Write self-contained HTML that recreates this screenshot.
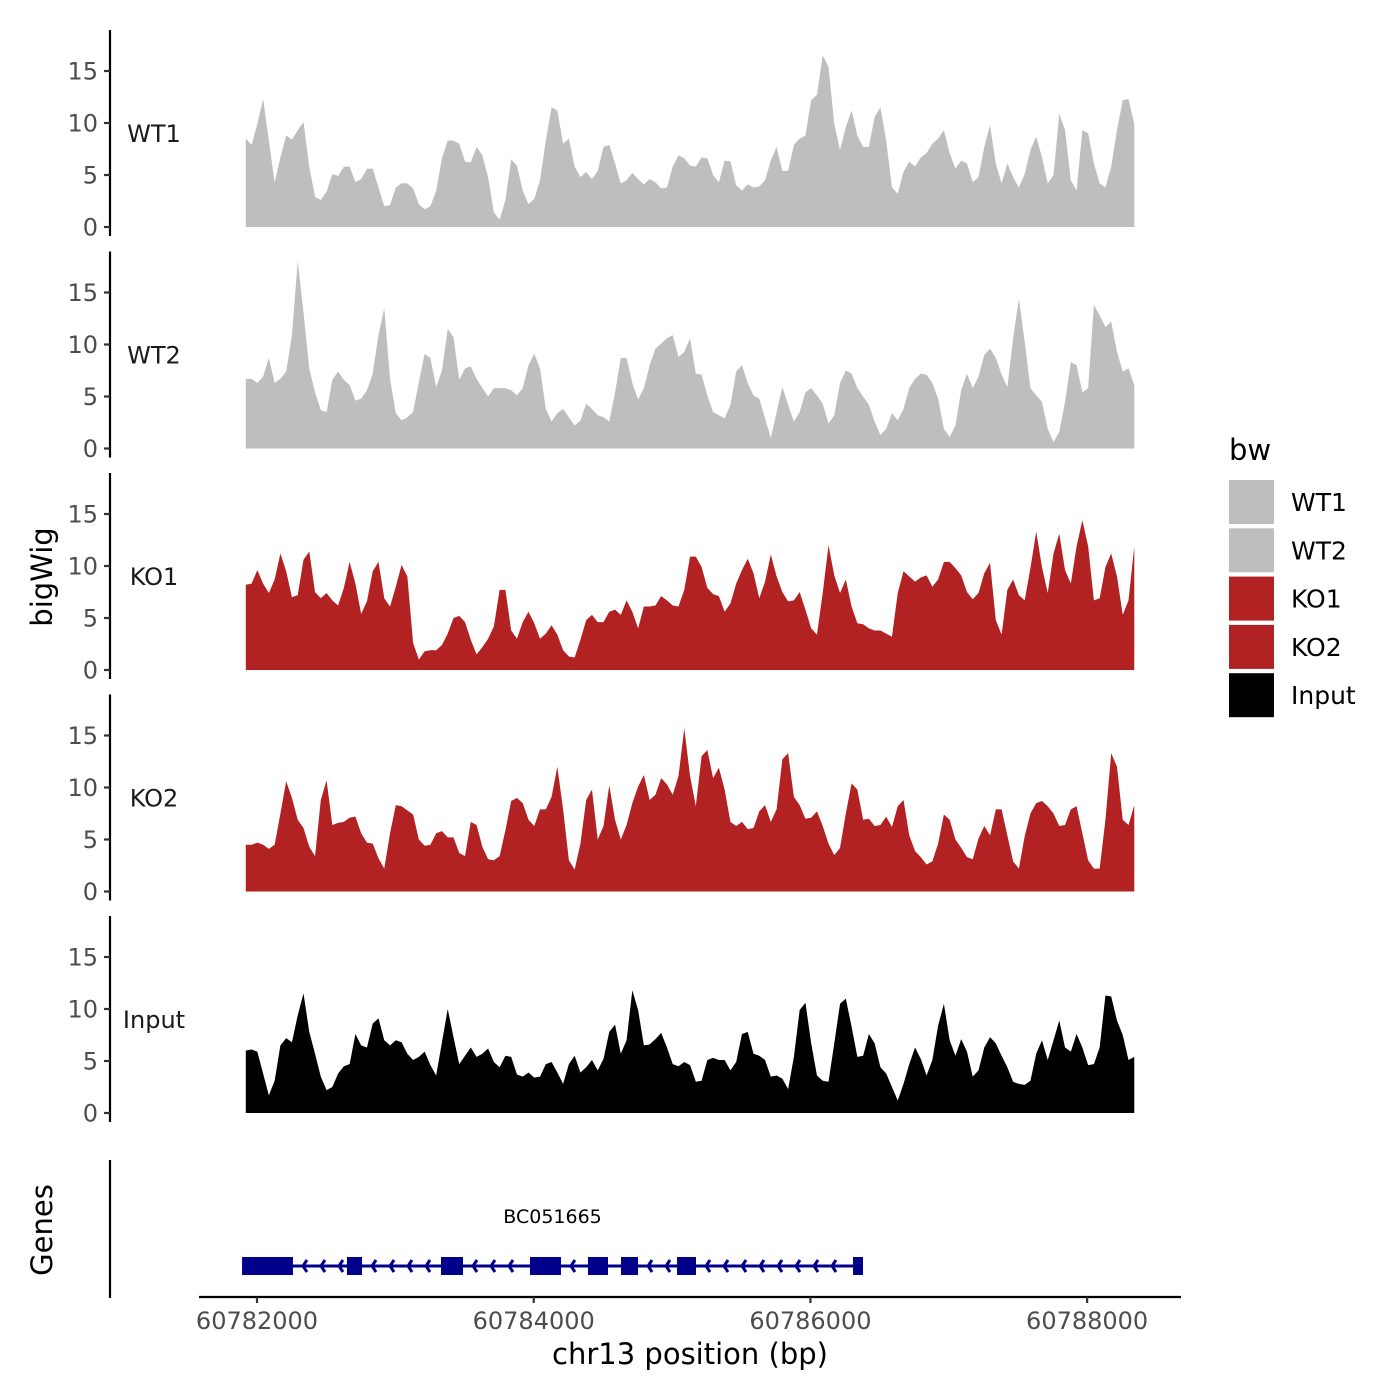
<!DOCTYPE html>
<html><head><meta charset="utf-8"><style>
html,body{margin:0;padding:0;background:#fff;}
svg{display:block;font-family:"DejaVu Sans","Liberation Sans",sans-serif;}
</style></head><body>
<svg id="chart" width="1400" height="1400" viewBox="0 0 1400 1400" xmlns="http://www.w3.org/2000/svg">
<rect width="1400" height="1400" fill="#fff"/>
<g id="panels"></g>
<g id="genes"></g>
<g id="xaxis"></g>
<text x="52" y="577" font-size="29" text-anchor="middle" transform="rotate(-90 52 577)">bigWig</text>
<text x="52" y="1230" font-size="29" text-anchor="middle" transform="rotate(-90 52 1230)">Genes</text>
<text x="690" y="1364" font-size="29" text-anchor="middle">chr13 position (bp)</text>
<g id="legend"></g>
</svg>
<script>
const startBp = 60781919;
const stepBp = 41.7;
const trackNames = ["WT1","WT2","KO1","KO2","Input"];
const trackColors = ["#bebebe","#bebebe","#b22222","#b22222","#000000"];
const wt1Values = [8.5,7.9,9.9,12.3,8.3,4.3,6.7,8.8,8.4,9.3,10.1,5.8,2.9,2.6,3.4,5.1,4.9,5.8,5.8,4.3,4.6,5.6,5.6,3.8,2.0,2.1,3.8,4.2,4.2,3.7,2.2,1.7,2.0,3.5,6.6,8.3,8.3,8.0,6.3,6.2,7.7,6.9,4.8,1.4,0.7,2.6,6.5,5.9,3.5,2.2,2.7,4.5,8.3,11.5,11.2,8.0,8.5,5.8,4.8,5.3,4.6,5.4,7.7,7.9,6.1,4.2,4.5,5.2,4.6,4.1,4.6,4.3,3.7,3.8,5.8,6.9,6.6,5.9,5.8,6.7,6.6,5.0,4.3,6.4,6.3,4.0,3.5,4.1,3.8,3.9,4.5,6.4,7.7,5.4,5.4,7.9,8.5,8.8,12.2,12.7,16.5,15.4,9.9,7.4,9.6,11.2,8.8,7.7,7.7,10.6,11.5,8.3,3.8,3.2,5.3,6.3,5.8,6.7,7.1,8.0,8.5,9.3,7.1,5.6,6.4,6.1,4.3,4.8,7.7,9.8,6.1,4.2,6.1,4.8,3.8,5.1,7.4,8.7,6.7,4.2,5.0,10.9,9.3,4.5,3.5,9.3,9.0,6.1,4.2,3.8,5.8,9.3,12.2,12.3,9.9];
const wt2Values = [6.7,6.7,6.3,6.9,8.7,6.3,6.7,7.4,10.9,18.0,13.1,7.7,5.4,3.7,3.5,6.6,7.4,6.6,6.1,4.6,4.8,5.6,7.2,10.9,13.5,6.7,3.4,2.7,3.0,3.5,6.4,9.1,8.7,5.9,7.5,11.5,10.7,6.6,7.7,7.9,6.7,5.8,5.0,5.8,5.8,5.8,5.6,5.1,5.8,8.0,9.1,7.7,3.8,2.6,3.4,3.8,3.0,2.2,2.7,4.3,3.8,3.2,3.0,2.6,5.4,8.7,8.7,6.3,4.7,5.8,8.0,9.6,10.1,10.6,10.9,8.8,9.3,10.6,7.2,7.1,5.1,3.5,3.2,2.9,4.2,7.4,8.0,6.3,5.1,4.8,2.9,1.0,3.5,5.9,4.2,2.6,3.5,5.4,5.8,5.1,4.3,2.4,3.2,6.3,7.5,7.2,5.8,5.0,4.2,2.6,1.3,1.9,3.4,2.7,3.8,5.8,6.7,7.2,7.1,6.3,4.8,1.9,1.1,2.2,5.6,7.2,5.8,6.9,9.0,9.6,8.7,7.1,5.9,10.6,14.4,10.3,5.8,5.1,4.5,1.9,0.6,1.6,4.5,8.3,8.0,5.4,5.8,13.8,12.8,11.7,12.2,9.3,7.4,7.7,6.1];
const ko1Values = [8.2,8.3,9.6,8.3,7.4,8.7,11.2,9.5,7.0,7.2,10.6,11.4,7.5,6.9,7.4,6.7,6.2,7.9,10.4,8.3,5.4,6.6,9.5,10.4,6.9,6.1,8.0,10.1,9.0,2.6,1.0,1.8,1.9,1.9,2.4,3.5,5.0,5.2,4.6,2.9,1.5,2.2,3.0,4.2,7.7,7.7,3.8,3.0,4.6,5.6,4.5,3.0,3.5,4.3,3.4,1.9,1.3,1.2,2.9,4.8,5.3,4.6,4.6,5.6,5.8,5.3,6.7,5.6,4.0,6.1,6.1,6.2,7.1,6.7,6.2,6.1,7.7,10.9,10.9,9.9,7.9,7.3,7.1,5.6,6.4,8.3,9.6,10.7,9.3,6.9,8.5,11.1,9.0,7.5,6.6,6.7,7.5,5.8,4.0,3.4,7.4,12.0,9.1,7.4,8.7,6.1,4.5,4.4,4.0,3.8,3.8,3.5,3.2,7.4,9.5,9.0,8.5,8.9,9.1,8.0,8.7,10.4,10.4,9.8,9.1,7.5,6.8,7.4,9.3,10.3,4.8,3.4,7.7,8.7,7.2,6.7,9.8,13.3,9.9,7.4,11.2,13.1,9.6,8.3,11.9,14.4,11.9,6.7,6.9,9.9,11.2,9.0,5.3,6.7,11.9];
const ko2Values = [4.5,4.5,4.7,4.5,4.1,4.5,7.5,10.6,9.0,6.9,6.1,4.3,3.4,8.8,10.7,6.4,6.6,6.7,7.1,7.2,5.6,4.7,4.6,3.2,2.2,5.6,8.3,8.2,7.8,7.4,5.0,4.4,4.5,5.6,5.8,5.2,5.2,3.7,3.4,6.7,6.4,4.3,3.1,3.0,3.4,5.9,8.7,9.0,8.5,6.9,6.3,7.9,7.9,9.1,12.0,7.9,3.0,2.1,4.6,8.8,9.8,5.0,6.3,10.2,6.9,5.0,6.4,8.5,10.1,11.2,8.8,9.3,10.9,10.3,9.3,11.1,15.7,11.1,8.2,13.0,13.6,10.9,11.9,9.8,6.7,6.3,6.7,6.0,6.1,7.7,8.3,6.7,7.9,12.7,13.3,9.1,8.3,7.0,7.1,7.7,6.3,4.6,3.5,4.2,7.5,10.4,9.8,6.9,7.0,6.3,6.4,7.2,6.2,8.2,8.8,5.4,3.9,3.3,2.6,2.9,4.6,7.4,6.9,5.0,4.2,3.3,3.1,5.1,6.3,5.4,7.9,7.9,5.4,2.9,2.2,5.3,7.5,8.5,8.7,8.2,7.5,6.3,6.4,7.9,8.2,5.6,3.0,2.2,2.2,6.9,13.3,12.0,6.9,6.4,8.3];
const inputValues = [6.0,6.1,5.9,3.8,1.7,3.1,6.5,7.2,6.8,9.4,11.5,7.8,5.7,3.5,2.2,2.5,3.8,4.5,4.7,7.6,6.5,6.3,8.6,9.1,7.0,6.5,7.0,6.8,5.7,5.1,5.4,5.9,4.6,3.6,6.8,10.0,7.3,4.7,5.5,6.3,5.4,5.7,6.2,4.9,4.4,5.5,5.4,3.7,3.5,3.9,3.4,3.5,4.7,4.9,3.9,2.8,4.7,5.5,3.9,4.4,5.1,4.1,5.2,7.8,8.5,5.7,7.0,11.8,9.9,6.5,6.6,7.1,7.7,6.3,4.7,4.5,4.9,4.6,3.0,3.1,5.1,5.3,5.1,5.1,4.1,4.9,7.6,7.8,5.7,5.5,5.1,3.5,3.6,3.3,2.3,5.4,9.9,10.6,6.7,3.6,3.1,3.0,6.7,10.5,11.0,8.3,5.4,5.5,7.6,6.7,4.4,3.8,2.5,1.2,2.8,4.7,6.3,5.2,3.6,5.1,8.4,10.5,7.0,5.5,7.1,5.9,3.5,4.1,6.3,7.3,6.7,5.5,4.4,3.0,2.8,2.7,3.1,5.7,7.0,5.1,7.0,8.9,6.3,5.9,7.6,6.3,4.6,4.7,6.3,11.3,11.2,8.9,7.5,5.1,5.4];
const trackValues = [wt1Values, wt2Values, ko1Values, ko2Values, inputValues];
const yTicks = [0,5,10,15];
const xTicks = [60782000,60784000,60786000,60788000];
const exonStarts = [60781892,60782650,60783330,60783973,60784392,60784631,60785036,60786308];
const exonEnds = [60782260,60782759,60783489,60784197,60784537,60784754,60785173,60786380];
const geneName = "BC051665";

const NS = "http://www.w3.org/2000/svg";
const zeroYs = [227, 448.5, 670, 891.5, 1113];
const pxPerUnit = 10.4;
function xScale(bp){ return 257 + (bp - 60782000) * 0.138355; }
function yScale(v, p){ return zeroYs[p] - v * pxPerUnit; }
function mk(tag, attrs, parent){ const e=document.createElementNS(NS,tag); for(const k in attrs) e.setAttribute(k, attrs[k]); parent.appendChild(e); return e; }

const panels = document.getElementById('panels');
trackNames.forEach((name, p) => {
  const g = mk('g', {}, panels);
  
  
  const vals = trackValues[p];
  let d = 'M' + xScale(startBp).toFixed(2) + ',' + zeroYs[p];
  vals.forEach((v, i) => { d += 'L' + xScale(startBp + i * stepBp).toFixed(2) + ',' + yScale(v, p).toFixed(2); });
  d += 'L' + xScale(startBp + (vals.length - 1) * stepBp).toFixed(2) + ',' + zeroYs[p] + 'Z';
  const area = mk('path', {d: d, fill: trackColors[p]}, g);
  
  
  const ax = mk('line', {x1:110, x2:110, y1: zeroYs[p]-197, y2: zeroYs[p]+9, stroke:'#000', 'stroke-width':2.2}, g);
  
  
  yTicks.forEach(t => {
    const y = yScale(t, p);
    const tk = mk('line', {x1:104, x2:110, y1:y, y2:y, stroke:'#333', 'stroke-width':2.2}, g);
    
    
    const tl = mk('text', {x:98, y:y+8.5, 'font-size':24, fill:'#4d4d4d', 'text-anchor':'end'}, g);
    tl.textContent = t;
    
    
  });
  const lb = mk('text', {x:154, y:zeroYs[p]-85, 'font-size':24, fill:'#1a1a1a', 'text-anchor':'middle'}, g);
  lb.textContent = name;
  
  
});

// gene track
const gg = document.getElementById('genes');
const gax = mk('line', {x1:110, x2:110, y1:1160, y2:1298, stroke:'#000', 'stroke-width':2.2}, gg);


const gy = 1266;
const gStart = xScale(exonStarts[0]), gEnd = xScale(exonEnds[exonEnds.length-1]);
const intr = mk('line', {x1:gStart, x2:gEnd, y1:gy, y2:gy, stroke:'#00008b', 'stroke-width':3}, gg);


for (let i = 0; i < exonStarts.length - 1; i++) {
  const a = xScale(exonEnds[i]) + 10, b = xScale(exonStarts[i+1]) - 6;
  for (let x = a; x <= b; x += 18) {
    const ch = mk('path', {d:'M'+(x+4)+','+(gy-6)+'L'+x+','+gy+'L'+(x+4)+','+(gy+6), stroke:'#00008b', 'stroke-width':3, fill:'none'}, gg);
    
    
  }
}
exonStarts.forEach((s, i) => {
  const r = mk('rect', {x:xScale(s), y:gy-9, width:xScale(exonEnds[i])-xScale(s), height:18, fill:'#00008b'}, gg);
  
  
});
const gl = mk('text', {x:(gStart+gEnd)/2, y:1223, 'font-size':19, 'text-anchor':'middle', fill:'#000'}, gg);
gl.textContent = geneName;



// x axis
const xa = document.getElementById('xaxis');
const xl = mk('line', {x1:199, x2:1181, y1:1297, y2:1297, stroke:'#000', 'stroke-width':2.2}, xa);


xTicks.forEach(t => {
  const x = xScale(t);
  const tk = mk('line', {x1:x, x2:x, y1:1297, y2:1303, stroke:'#333', 'stroke-width':2.2}, xa);
  
  
  const tl = mk('text', {x:x, y:1329, 'font-size':24, fill:'#4d4d4d', 'text-anchor':'middle'}, xa);
  tl.textContent = t;
  
  
});

// legend
const lg = document.getElementById('legend');
const lt = mk('text', {x:1229, y:460, 'font-size':29, fill:'#000'}, lg);
lt.textContent = 'bw';


trackNames.forEach((name, i) => {
  const y = 480 + i * 48.3;
  const r = mk('rect', {x:1229, y:y, width:45, height:44, fill:trackColors[i]}, lg);
  
  
  const t = mk('text', {x:1291, y:y+31, 'font-size':25, fill:'#000'}, lg);
  t.textContent = name;
  
  
});
</script>
</body></html>
